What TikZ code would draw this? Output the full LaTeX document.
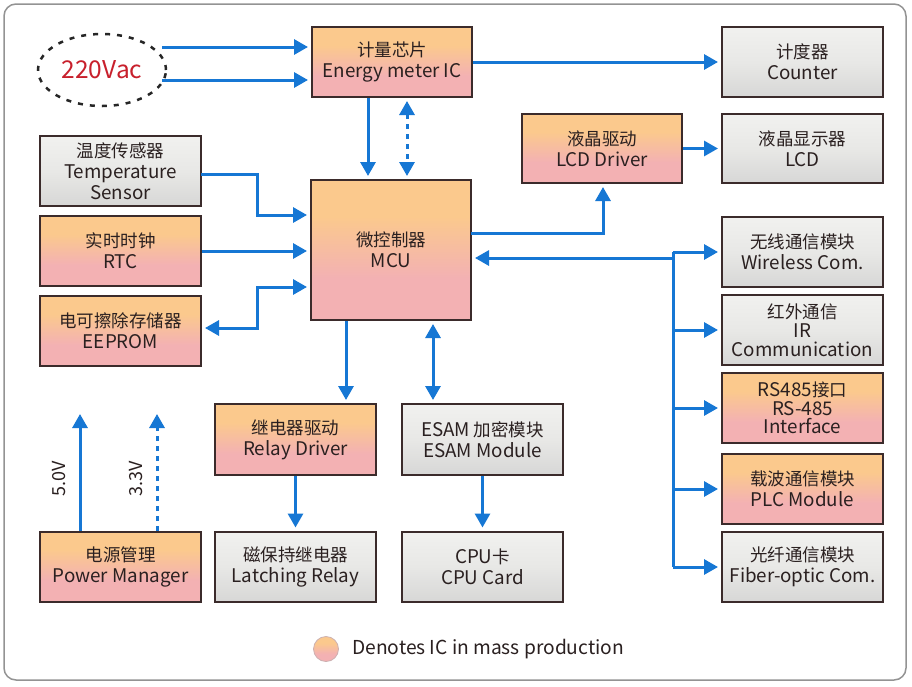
\documentclass[tikz,border=0pt]{standalone}
\usepackage{fontspec}
\setmainfont{Noto Sans CJK SC}
\usetikzlibrary{arrows.meta,shapes.geometric}
\definecolor{ln}{HTML}{1677D4}
\definecolor{bd}{HTML}{3B2B2B}
\definecolor{tx}{HTML}{2A2020}
\definecolor{orc}{HTML}{FBC98D}
\definecolor{pkc}{HTML}{F3B1B3}
\definecolor{gtop}{HTML}{FAFAF8}
\definecolor{gmid}{HTML}{E8E8E6}
\definecolor{gbot}{HTML}{C6C6C6}
\definecolor{acred}{HTML}{C8202C}
\pgfdeclareverticalshading{icshade}{100bp}{color(0bp)=(pkc); color(40bp)=(pkc); color(62bp)=(orc); color(100bp)=(orc)}
\pgfdeclareverticalshading{grshade}{100bp}{color(0bp)=(gbot); color(50bp)=(gmid); color(100bp)=(gtop)}
\newcommand\lt[1]{{\fontsize{18.8}{21}\selectfont #1}}
\tikzset{
  box/.style={draw=bd, line width=2pt, minimum width=161pt, minimum height=70pt, align=center, text=tx, inner sep=2pt, font=\fontsize{17.5}{21}\selectfont},
  icbox/.style={box, shading=icshade},
  grbox/.style={box, shading=grshade},
  arr/.style={draw=ln, line width=3pt, -{Triangle[length=14pt,width=15pt]}, shorten >=3pt},
  darr/.style={draw=ln, line width=3pt, {Triangle[length=14pt,width=15pt]}-{Triangle[length=14pt,width=15pt]}, shorten >=3pt, shorten <=3pt},
  dots/.style={dash pattern=on 5pt off 5pt},
  plain/.style={draw=ln, line width=3pt},
  vlabel/.style={pos=0.44, anchor=south, rotate=90, text=tx, font=\fontsize{18}{18}\selectfont, inner sep=13pt},
}
\begin{document}
\begin{tikzpicture}[x=1pt,y=-1pt]
\useasboundingbox (0,0) rectangle (912,686);
\draw[draw=gray!85, line width=1.5pt, rounded corners=12pt, fill=white] (4,4) rectangle (906,680);

% nodes
\node[ellipse, draw=black!85, line width=2.5pt, dash pattern=on 5pt off 7pt, minimum width=128pt, minimum height=72pt, text=acred, font=\fontsize{24.5}{24}\selectfont] (ac) at (102,70) {220Vac};
\node[icbox, minimum width=160pt] (emic) at (392,62) {计量芯片\\\lt{Energy meter IC}};
\node[grbox] (counter) at (802.5,62) {计度器\\\lt{Counter}};
\node[icbox, minimum width=160pt, minimum height=69pt] (lcddrv) at (602,148.5) {液晶驱动\\\lt{LCD Driver}};
\node[grbox, minimum height=69pt] (lcd) at (802.5,148.5) {液晶显示器\\\lt{LCD}};
\node[grbox] (temp) at (120.5,171) {温度传感器\\\lt{Temperature}\\\lt{Sensor}};
\node[icbox] (rtc) at (120.5,251) {实时时钟\\\lt{RTC}};
\node[icbox] (eeprom) at (120.5,331) {电可擦除存储器\\\lt{EEPROM}};
\node[icbox, minimum width=160pt, minimum height=140pt] (mcu) at (391,250) {微控制器\\\lt{MCU}};
\node[grbox] (wireless) at (802.5,252) {无线通信模块\\\lt{Wireless Com.}};
\node[grbox, font=\fontsize{17.5}{19}\selectfont] (ir) at (802.5,330) {红外通信\\{\fontsize{18.8}{19}\selectfont IR}\\{\fontsize{18.8}{19}\selectfont Communication}};
\node[icbox, font=\fontsize{17.5}{18.5}\selectfont] (rs) at (802.5,408) {{\fontsize{18.8}{18.5}\selectfont RS485}接口\\{\fontsize{18.8}{18.5}\selectfont RS-485}\\{\fontsize{18.8}{18.5}\selectfont Interface}};
\node[icbox] (plc) at (802.5,489) {载波通信模块\\\lt{PLC Module}};
\node[grbox] (fiber) at (802.5,567) {光纤通信模块\\\lt{Fiber-optic Com.}};
\node[icbox, minimum height=71pt] (relay) at (295.5,439.5) {继电器驱动\\\lt{Relay Driver}};
\node[grbox, minimum height=71pt] (esam) at (482.5,439.5) {\lt{ESAM} 加密模块\\\lt{ESAM Module}};
\node[icbox] (power) at (120.5,566.5) {电源管理\\\lt{Power Manager}};
\node[grbox] (latch) at (295.5,566.5) {磁保持继电器\\\lt{Latching Relay}};
\node[grbox] (cpu) at (482.5,566.5) {\lt{CPU}卡\\\lt{CPU Card}};

% legend
\node[circle, shading=icshade, draw=pkc!70!black!60, line width=0.8pt, minimum size=25pt, inner sep=0pt] (leg) at (326,649) {};
\node[anchor=west, text=tx, font=\fontsize{19.2}{21}\selectfont, inner sep=0pt] (legtext) at (352,649) {Denotes IC in mass production};

% coordinates
\coordinate (acA) at (162,47);
\coordinate (acB) at (162,80);
\coordinate (sx) at (368,140);
\coordinate (dx) at (407,140);
\coordinate (tA) at (201,174);
\coordinate (tB) at (257,174);
\coordinate (tC) at (257,215);
\coordinate (eA) at (257,328);
\coordinate (eB) at (257,287);
\coordinate (rX) at (346,360);
\coordinate (eX) at (433,360);
\coordinate (lA) at (471,233);
\coordinate (lB) at (603,233);
\coordinate (busT) at (673,252);
\coordinate (busM) at (673,258);
\coordinate (v5) at (80,414);
\coordinate (v3) at (157,414);

% connectors
\draw[arr] (acA) -- (acA -| emic.west);
\draw[arr] (acB) -- (acB -| emic.west);
\draw[arr] (emic.east) -- (counter.west);
\draw[arr] (emic.south -| sx) -- (mcu.north -| sx);
\draw[darr, dots] (emic.south -| dx) -- (mcu.north -| dx);
\draw[arr] (tA) -- (tB) -- (tC) -- (tC -| mcu.west);
\draw[arr] (rtc.east) -- (rtc.east -| mcu.west);
\draw[darr] (eA -| eeprom.east) -- (eA) -- (eB) -- (eB -| mcu.west);
\draw[arr] (mcu.south -| rX) -- (relay.north -| rX);
\draw[darr] (mcu.south -| eX) -- (esam.north -| eX);
\draw[arr] (lA) -- (lB) -- (lcddrv.south -| lB);
\draw[arr] (lcddrv.east) -- (lcd.west);
\draw[plain] (busT) -- (busT |- fiber.west);
\draw[arr] (busM) -- (busM -| mcu.east);
\draw[arr] (busT) -- (wireless.west);
\draw[arr] (busT |- ir.west) -- (ir.west);
\draw[arr] (busT |- rs.west) -- (rs.west);
\draw[arr] (busT |- plc.west) -- (plc.west);
\draw[arr] (busT |- fiber.west) -- (fiber.west);
\draw[arr] (relay.south) -- (latch.north);
\draw[arr] (esam.south) -- (cpu.north);
\draw[arr, shorten >=0pt] (power.north -| v5) -- node[vlabel] {5.0V} (v5);
\draw[arr, dots, shorten >=0pt] (power.north -| v3) -- node[vlabel] {3.3V} (v3);
\end{tikzpicture}
\end{document}
